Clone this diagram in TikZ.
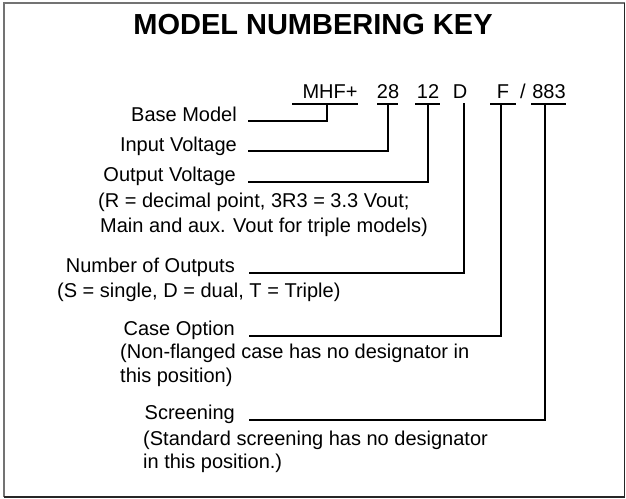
\documentclass[tikz,border=0pt]{standalone}
\usepackage{fontspec}
\setmainfont{Liberation Sans}
\begin{document}
\begin{tikzpicture}[x=1pt,y=-1pt,
  lbl/.style={anchor=base east,inner sep=0pt,font=\fontsize{20}{24}\selectfont},
  desc/.style={anchor=base west,inner sep=0pt,font=\fontsize{20}{24}\selectfont},
  code/.style={anchor=base,inner sep=0pt,font=\fontsize{20}{24}\selectfont},
  conn/.style={line width=1.8pt,line cap=rect},
  uline/.style={line width=1.6pt}]
\useasboundingbox (0,0) rectangle (626,498);
% frame
\draw[line width=1.5pt,black!55] (4,497) -- (4,3) -- (624.5,3);
\draw[line width=1.6pt,black!85] (4,497) -- (624.5,497) -- (624.5,3);
% title
\node[anchor=base,inner sep=0pt,font=\fontsize{29}{34}\selectfont\bfseries] (title) at (313,34) {MODEL NUMBERING KEY};
% code parts
\node[code] (mhf) at (330,98) {MHF+};
\node[code] (c28) at (388,98) {28};
\node[code] (c12) at (428,98) {12};
\node[code] (cD) at (460,98) {D};
\node[code] (cF) at (503,98) {F};
\node[code] (sl) at (523,98) {/};
\node[code] (c883) at (549,98) {883};
% underlines
\coordinate (mhfU) at (327,104);
\coordinate (u28) at (388,104);
\coordinate (u12) at (428,104);
\coordinate (uD) at (464,104);
\coordinate (uF) at (501,104);
\coordinate (u883) at (545,104);
\draw[uline] (292,104) -- (358,104);
\draw[uline] (377,104) -- (398,104);
\draw[uline] (415,104) -- (440,104);
\draw[uline] (490,104) -- (516,104);
\draw[uline] (531,104) -- (566,104);
% labels
\node[lbl] (bm) at (237,121) {Base Model};
\node[lbl] (iv) at (237,151) {Input Voltage};
\node[lbl] (ov) at (236,181) {Output Voltage};
\node[desc] (ovd1) at (98,207) {(R = decimal point, 3R3 = 3.3 Vout;};
\node[desc] (ovd2) at (100,232) {Main and aux. Vout for triple models)};
\node[lbl] (no) at (235,272) {Number of Outputs};
\node[desc] (nod) at (57,297) {(S = single, D = dual, T = Triple)};
\node[lbl] (co) at (235,335) {Case Option};
\node[desc] (cod1) at (120,358) {(Non-flanged case has no designator in};
\node[desc] (cod2) at (120,382) {this position)};
\node[lbl] (sc) at (235,419) {Screening};
\node[desc] (scd1) at (143,445) {(Standard screening has no designator};
\node[desc] (scd2) at (143,468) {in this position.)};
% connectors
\coordinate (bmS) at (249,121);
\coordinate (ivS) at (249,151);
\coordinate (ovS) at (249,182);
\coordinate (noS) at (250,273);
\coordinate (coS) at (250,336);
\coordinate (scS) at (250,420);
\draw[conn] (bmS) -| (mhfU);
\draw[conn] (ivS) -| (u28);
\draw[conn] (ovS) -| (u12);
\draw[conn] (noS) -| (uD);
\draw[conn] (coS) -| (uF);
\draw[conn] (scS) -| (u883);
\end{tikzpicture}
\end{document}
